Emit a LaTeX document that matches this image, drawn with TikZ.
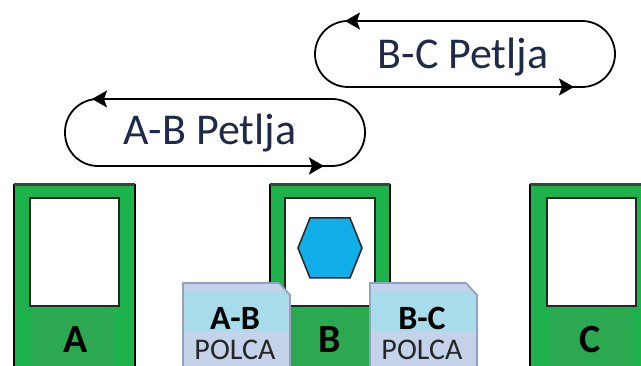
\documentclass[tikz,border=0pt]{standalone}
\usepackage{fontspec}
\setmainfont{Carlito}
\usetikzlibrary{arrows.meta}
\definecolor{cardgreen}{HTML}{1DB24B}
\definecolor{labelgreen}{HTML}{2BA850}
\definecolor{hexblue}{HTML}{12AEEA}
\definecolor{polcatop}{HTML}{A9DCEA}
\definecolor{polcabot}{HTML}{C4D3EA}
\definecolor{polcaedge}{HTML}{8EA3BD}
\definecolor{textblue}{HTML}{1F2A4A}
\tikzset{
  cardouter/.style={fill=cardgreen, draw=black, line width=1.2pt},
  cardtop/.style={draw=black!75, line width=3pt},
  cardinner/.style={fill=white, draw=black!85, line width=2pt},
  cardlabel/.style={fill=labelgreen, draw=none},
  cardletter/.style={font=\fontsize{40}{40}\selectfont\bfseries, text=black},
  polcahead/.style={font=\fontsize{34}{34}\selectfont\bfseries, text=black},
  polcaname/.style={font=\fontsize{30}{30}\selectfont, text=black!85},
  looptext/.style={font=\fontsize{44}{44}\selectfont, text=textblue},
  loopline/.style={draw=black, line width=1.8pt, rounded corners=33pt},
  looparrow/.style={-{Stealth[length=15pt,width=17pt,inset=3pt]}, draw=black, line width=1.8pt},
}
\begin{document}
\begin{tikzpicture}[x=1pt,y=-1pt]
\useasboundingbox (0,0) rectangle (641,366);
\clip (0,0) rectangle (641,366);

% ---- Loops ----
% A-B loop
\draw[loopline] (65,99) rectangle (365,166);
\coordinate (abTL) at (92,99);
\coordinate (abBR) at (324,166);
\draw[looparrow] (125,99) -- (abTL);
\draw[looparrow] (295,166) -- (abBR);
\node[looptext] (abtext) at (210,133) {A-B Petlja};

% B-C loop
\draw[loopline] (315,21) rectangle (615,87);
\coordinate (bcTL) at (345,21);
\coordinate (bcBR) at (574,87);
\draw[looparrow] (378,21) -- (bcTL);
\draw[looparrow] (545,87) -- (bcBR);
\node[looptext] (bctext) at (463,57) {B-C Petlja};

% ---- Cards ----
% Card A
\path[cardouter] (14,185) rectangle (135,372);
\draw[cardtop] (14,185) -- (135,185);
\path[cardlabel] (32,312) rectangle (113,372);
\path[cardinner] (30,198) rectangle (119,306);
\node[cardletter] (A) at (76,340) {A};

% Card B
\path[cardouter] (270,185) rectangle (390,372);
\draw[cardtop] (270,185) -- (390,185);
\path[cardlabel] (288,312) rectangle (372,372);
\path[cardinner] (285,198) rectangle (375,306);
\node[cardletter] (B) at (330,340) {B};
\path[fill=hexblue, draw=black!85, line width=1.5pt]
  (298,248) -- (310,218) -- (350,218) -- (362,248) -- (350,278) -- (310,278) -- cycle;

% Card C
\path[cardouter] (530,185) rectangle (655,372);
\draw[cardtop] (530,185) -- (655,185);
\path[cardlabel] (549,312) rectangle (634,372);
\path[cardinner] (547,198) rectangle (636,306);
\node[cardletter] (C) at (590,340) {C};

% ---- POLCA cards ----
% A-B
\begin{scope}
\path[fill=polcabot]
  (183,283) -- (279,283) -- (290,295) -- (290,372) -- (183,372) -- cycle;
\clip (183,283) -- (279,283) -- (290,295) -- (290,372) -- (183,372) -- cycle;
\fill[polcatop] (185,291) rectangle (288,331);
\end{scope}
\draw[polcaedge, line width=1.8pt] (183,372) -- (183,283) -- (279,283) -- (290,295) -- (290,372);
\node[polcahead] (pab) at (235,318) {A-B};
\node[polcaname] (pabn) at (235,350) {POLCA};

% B-C
\begin{scope}
\path[fill=polcabot]
  (370,283) -- (466,283) -- (477,295) -- (477,372) -- (370,372) -- cycle;
\clip (370,283) -- (466,283) -- (477,295) -- (477,372) -- (370,372) -- cycle;
\fill[polcatop] (372,291) rectangle (475,331);
\end{scope}
\draw[polcaedge, line width=1.8pt] (370,372) -- (370,283) -- (466,283) -- (477,295) -- (477,372);
\node[polcahead] (pbc) at (422,318) {B-C};
\node[polcaname] (pbcn) at (422,350) {POLCA};
\end{tikzpicture}
\end{document}
